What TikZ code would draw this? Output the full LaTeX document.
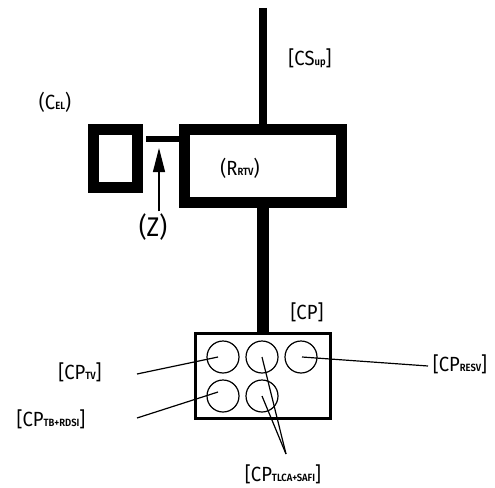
\documentclass[tikz,border=0pt]{standalone}
\usepackage{fontspec}
\setmainfont{Fira Sans}[BoldFont=* SemiBold,FakeStretch=0.9]
\usetikzlibrary{arrows.meta,calc}
\newcommand{\sbx}[1]{{\fontsize{10.5}{10.5}\selectfont\bfseries #1}}
\begin{document}
\begin{tikzpicture}[x=1pt,y=-1pt,
  frame/.style={draw,line width=11pt,miter limit=10,inner sep=0pt},
  lbl/.style={inner sep=0pt,font=\fontsize{20.5}{20.5}\selectfont},
  hole/.style={draw,circle,line width=1.2pt,minimum size=32pt,inner sep=0pt},
  lead/.style={line width=1.2pt}]
\useasboundingbox (0,0) rectangle (495,487);
% boxes
\node[frame,minimum width=157pt,minimum height=73pt] (rrtv) at (263,166) {};
\node[frame,minimum width=44pt,minimum height=58pt] (cel) at (115.5,158.5) {};
\node[draw,line width=3pt,inner sep=0pt,minimum width=135pt,minimum height=85pt] (cp) at (263,376) {};
% circles
\node[hole] (c1) at (223,357) {};
\node[hole] (c2) at (262,357) {};
\node[hole] (c3) at (301,357) {};
\node[hole] (c4) at (223,396) {};
\node[hole] (c5) at (262,396) {};
% labels
\node[lbl] (lcel) at (55,102) {(C\sbx{EL})};
\node[lbl] (lcs) at (310,58) {[CS\sbx{up}]};
\node[lbl] (lrtv) at (240,168) {(R\sbx{RTV})};
\node[lbl,font=\fontsize{27}{27}\selectfont] (lz) at (153,227) {(Z)};
\node[lbl] (lcp) at (307,312) {[CP]};
\node[lbl] (ltv) at (80,372) {[CP\sbx{TV}]};
\node[lbl] (ltb) at (51,419) {[CP\sbx{TB+RDSI}]};
\node[lbl] (lres) at (460,364) {[CP\sbx{RESV}]};
\node[lbl] (ltl) at (283,474) {[CP\sbx{TLCA+SAFI}]};
% connectors
\coordinate (top) at (262.5,8);
\coordinate (bar) at (160,139);
\coordinate (ztip) at (159,148);
\draw[line width=8pt] (top) -- (top |- rrtv.north);
\draw[line width=6pt] ([xshift=3pt]cel.east |- bar) -- (rrtv.west |- bar);
\draw[line width=12pt] (rrtv.south) -- (cp.north);
\draw[lead,-{Triangle[length=24pt,width=12pt]}] (ztip |- lz.north) ++(0,-2) -- (ztip);
\coordinate (tva) at (137,374);
\coordinate (tba) at (137,418);
\coordinate (rsa) at (428,366);
\coordinate (tla) at (286,454);
\draw[lead] (tva) -- ([xshift=-5pt]c1.center);
\draw[lead] (tba) -- ([xshift=-5pt,yshift=4pt]c4.center);
\draw[lead] (rsa) -- ([xshift=1pt]c3.center);
\draw[lead] (tla) -- (c2.center);
\draw[lead] (tla) -- (c5.center);
\end{tikzpicture}
\end{document}
